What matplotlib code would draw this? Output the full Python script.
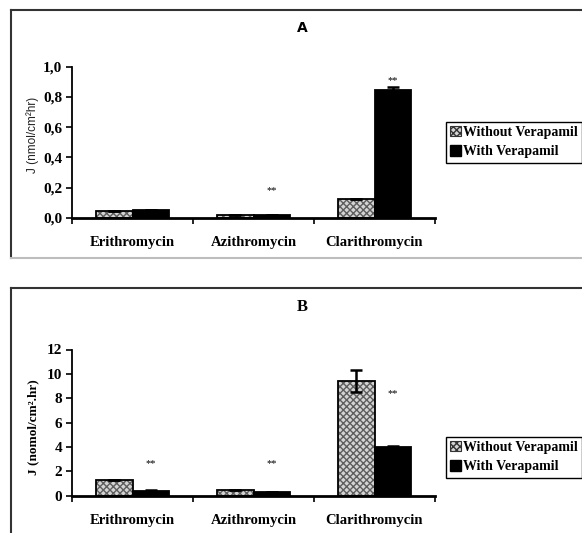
import numpy as np
import matplotlib
matplotlib.use("Agg")
import matplotlib.pyplot as plt
from matplotlib.lines import Line2D
from matplotlib.patches import Patch

# data
categories = ["Erithromycin", "Azithromycin", "Clarithromycin"]
legend_labels = ["Without Verapamil", "With Verapamil"]

a_without = [0.045, 0.018, 0.125]
a_with = [0.05, 0.022, 0.845]
a_with_err = [0, 0, 0.02]
a_yticks = [0, 0.2, 0.4, 0.6, 0.8, 1.0]
a_yticklabels = ["0,0", "0,2", "0,4", "0,6", "0,8", "1,0"]
a_stars = [1, 2]          # categories marked ** (with verapamil)
a_star_y = [0.18, 0.91]

b_without = [1.3, 0.5, 9.4]
b_without_err = [0, 0, 0.9]
b_with = [0.4, 0.3, 4.0]
b_with_err = [0.1, 0, 0.1]
b_yticks = [0, 2, 4, 6, 8, 10, 12]
b_yticklabels = ["0", "2", "4", "6", "8", "10", "12"]
b_stars = [0, 1, 2]
b_star_y = [2.6, 2.6, 8.4]

serif = "Liberation Serif"
W, H = 582, 533
fig = plt.figure(figsize=(W / 100, H / 100), dpi=100)


def fx(px):
    return px / W


def fy(py):
    return 1 - py / H


def draw_frame(top, bottom, bottom_color):
    fig.add_artist(Line2D([fx(11), fx(11)], [fy(top), fy(bottom)], color="#333333", lw=1.5, transform=fig.transFigure))
    fig.add_artist(Line2D([fx(11), 1.02], [fy(top), fy(top)], color="#333333", lw=1.5, transform=fig.transFigure))
    fig.add_artist(Line2D([fx(11), 1.02], [fy(bottom), fy(bottom)], color=bottom_color, lw=1.5, transform=fig.transFigure))


def panel(rect, without, with_, without_err, with_err, yticks, yticklabels, ymax, stars, star_y):
    ax = fig.add_axes(rect)
    x = np.arange(len(categories))
    w = 0.3
    # hatched bars: gray pattern then black outline
    ax.bar(x - w / 2, without, w, color="#d4d4d4", hatch="xxxxx", edgecolor="#5e5e5e", lw=0, zorder=2)
    ax.bar(x - w / 2, without, w, fill=False, edgecolor="black", lw=1.3, zorder=3)
    ax.bar(x + w / 2, with_, w, color="black", edgecolor="black", lw=1.3, zorder=3)
    ax.errorbar(x - w / 2, without, yerr=without_err, fmt="none", ecolor="black", elinewidth=1.8, capsize=4, capthick=1.8, zorder=4)
    ax.errorbar(x + w / 2, with_, yerr=with_err, fmt="none", ecolor="black", elinewidth=1.8, capsize=4, capthick=1.8, zorder=4)
    for i, yy in zip(stars, star_y):
        ax.text(i + w / 2, yy, "**", ha="center", va="center", fontsize=7.5, family=serif)

    ax.set_xlim(-0.5, 2.5)
    ax.set_ylim(0, ymax)
    ax.set_yticks(yticks)
    ax.set_yticklabels(yticklabels, family=serif, fontweight="bold", fontsize=11)
    ax.set_xticks(x)
    ax.set_xticklabels(categories, family=serif, fontweight="bold", fontsize=10.5)
    ax.set_xticks([-0.5, 0.5, 1.5, 2.5], minor=True)
    ax.tick_params(axis="x", which="major", length=0, pad=13)
    ax.tick_params(axis="x", which="minor", length=4, width=1.2, direction="out")
    ax.tick_params(axis="y", length=4, width=1.2, direction="out", pad=3)
    ax.spines["top"].set_visible(False)
    ax.spines["right"].set_visible(False)
    ax.spines["left"].set_linewidth(1.3)
    ax.spines["bottom"].set_linewidth(2)
    return ax


def add_legend(top_px):
    handles = [Patch(facecolor="#d4d4d4", hatch="xxxxx", edgecolor="#333333", lw=0.8),
               Patch(facecolor="black", edgecolor="black")]
    leg = fig.legend(handles, legend_labels, loc="upper left",
                     bbox_to_anchor=(fx(446), fy(top_px)), frameon=True, fancybox=False,
                     edgecolor="black", framealpha=1, borderaxespad=0, borderpad=0.3,
                     handlelength=0.75, handleheight=0.75, handletextpad=0.2, labelspacing=0.45,
                     prop={"family": serif, "weight": "bold", "size": 10})
    leg.get_frame().set_linewidth(1.0)


# panel A
draw_frame(10, 258, "#bdbdbd")
ax_a = panel([fx(72), fy(218), fx(435) - fx(72), fy(66.5) - fy(218)],
             a_without, a_with, [0, 0, 0], a_with_err, a_yticks, a_yticklabels, 1.0, a_stars, a_star_y)
fig.text(fx(302), fy(28), "A", ha="center", va="center", fontsize=10, fontweight="bold", family="DejaVu Sans")
fig.text(fx(33), fy(135), "J (nmol/cm²hr)", rotation=90, ha="center", va="center", fontsize=8.5, family="Liberation Sans", color="#222222")
add_legend(122)

# panel B
draw_frame(288, 545, "#bdbdbd")
ax_b = panel([fx(72), fy(495.7), fx(435) - fx(72), fy(349.5) - fy(495.7)],
             b_without, b_with, b_without_err, b_with_err, b_yticks, b_yticklabels, 12, b_stars, b_star_y)
fig.text(fx(302), fy(307), "B", ha="center", va="center", fontsize=12, fontweight="bold", family=serif)
fig.text(fx(33), fy(427), "J (nomol/cm².hr)", rotation=90, ha="center", va="center", fontsize=9.5, fontweight="bold", family=serif)
add_legend(437)

fig.savefig("out.png", dpi=100)
